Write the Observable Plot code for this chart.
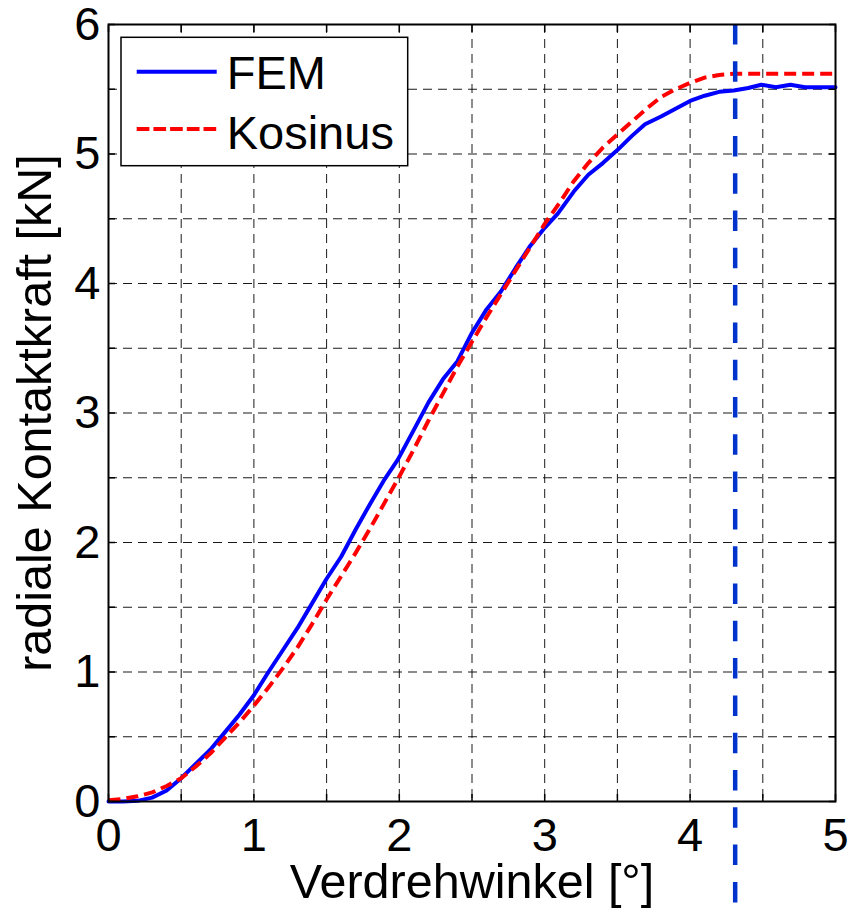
<!DOCTYPE html>
<html><head><meta charset="utf-8">
<script src="https://cdn.jsdelivr.net/npm/d3@7"></script>
<script src="https://cdn.jsdelivr.net/npm/@observablehq/plot@0.6"></script>
<style>
html,body{margin:0;padding:0;background:#fff;}
#wrap{position:relative;width:848px;height:912px;font-family:"Liberation Sans",Arial,Helvetica,sans-serif;}
#wrap svg{display:block;}
#legend{position:absolute;left:120px;top:36px;}
</style></head><body><div id="wrap"></div>
<script>
// FEM series
const femAngle = [0, 0.1, 0.2, 0.3, 0.4, 0.5, 0.6, 0.7, 0.79, 0.9, 1.0, 1.1, 1.2, 1.3, 1.4, 1.5, 1.6, 1.7, 1.8, 1.9, 1.99, 2.1, 2.2, 2.3, 2.4, 2.5, 2.6, 2.7, 2.8, 2.9, 3.0, 3.09, 3.2, 3.3, 3.4, 3.5, 3.6, 3.69, 3.8, 3.9, 4.0, 4.1, 4.2, 4.3, 4.4, 4.49, 4.59, 4.69, 4.79, 4.9, 5.0];
const femForce = [0, 0, 0.005, 0.03, 0.085, 0.18, 0.29, 0.40, 0.52, 0.67, 0.82, 1.0, 1.17, 1.34, 1.53, 1.72, 1.89, 2.10, 2.30, 2.49, 2.64, 2.87, 3.08, 3.26, 3.40, 3.62, 3.80, 3.94, 4.12, 4.29, 4.43, 4.54, 4.71, 4.84, 4.93, 5.03, 5.14, 5.23, 5.29, 5.35, 5.41, 5.45, 5.48, 5.49, 5.51, 5.535, 5.515, 5.535, 5.515, 5.515, 5.515];
// Kosinus series
const kosAngle = [0, 0.1, 0.2, 0.3, 0.4, 0.5, 0.6, 0.7, 0.8, 0.9, 1.0, 1.1, 1.2, 1.3, 1.4, 1.5, 1.6, 1.7, 1.8, 1.9, 2.0, 2.1, 2.2, 2.3, 2.4, 2.5, 2.6, 2.7, 2.8, 2.9, 3.0, 3.1, 3.2, 3.3, 3.4, 3.5, 3.6, 3.7, 3.8, 3.9, 4.0, 4.1, 4.2, 4.3, 5.0];
const kosForce = [0.01, 0.02, 0.04, 0.07, 0.12, 0.18, 0.27, 0.37, 0.49, 0.61, 0.74, 0.88, 1.03, 1.19, 1.37, 1.56, 1.74, 1.92, 2.11, 2.31, 2.51, 2.72, 2.94, 3.15, 3.36, 3.55, 3.74, 3.92, 4.10, 4.28, 4.46, 4.62, 4.79, 4.93, 5.05, 5.15, 5.25, 5.35, 5.44, 5.50, 5.55, 5.59, 5.61, 5.62, 5.62];
// vertical marker
const markerAngle = [4.31];
const markerSpan = [6, -0.788];
// ticks
const xTickLabels = [0, 1, 2, 3, 4, 5];
const yTickLabels = [0, 1, 2, 3, 4, 5, 6];
const xMinorTicks = [0, 0.5, 1, 1.5, 2, 2.5, 3, 3.5, 4, 4.5, 5];
const yMinorTicks = [0, 0.5, 1, 1.5, 2, 2.5, 3, 3.5, 4, 4.5, 5, 5.5, 6];
const xGrid = [0.5, 1, 1.5, 2, 2.5, 3, 3.5, 4, 4.5];
const yGrid = [0.5, 1, 1.5, 2, 2.5, 3, 3.5, 4, 4.5, 5, 5.5];
const xLabel = "Verdrehwinkel [°]";
const yLabel = "radiale Kontaktkraft [kN]";
const seriesNames = ["FEM", "Kosinus"];
const seriesColors = ["#0000ff", "#ff0000"];
const seriesDash = [null, "12.7,4"];

const fem = femAngle.map((a, i) => ({a, f: femForce[i]}));
const kos = kosAngle.map((a, i) => ({a, f: kosForce[i]}));

const FS = 47;
const LFS = 48.5;
const gridStyle = {stroke: "#000", strokeOpacity: 0.9, strokeWidth: 1, strokeDasharray: "9,6"};
const fmt = d => String(d);

const plot = Plot.plot({
  width: 848, height: 912,
  marginLeft: 108, marginRight: 13, marginTop: 24, marginBottom: 111,
  style: {fontFamily: '"Liberation Sans", Arial, Helvetica, sans-serif', fontSize: FS + "px", background: "transparent", color: "#000", overflow: "visible"},
  x: {domain: [0, 5]},
  y: {domain: [0, 6]},
  marks: [
    Plot.gridX(xGrid, gridStyle),
    Plot.gridY(yGrid, gridStyle),
    Plot.line(fem, {x: "a", y: "f", stroke: seriesColors[0], strokeWidth: 4}),
    Plot.line(kos, {x: "a", y: "f", stroke: seriesColors[1], strokeWidth: 4, strokeDasharray: "12,6", strokeLinecap: "butt"}),
    Plot.ruleX(markerAngle, {y1: markerSpan[0], y2: markerSpan[1], stroke: "#0033cc", strokeWidth: 4.5, strokeDasharray: "20.5,16.8", strokeLinecap: "butt"}),
    Plot.frame({stroke: "#000", strokeWidth: 2}),
    Plot.axisX(xMinorTicks, {anchor: "bottom", tickSize: -7, tickFormat: () => "", label: null, strokeWidth: 1.5}),
    Plot.axisX(xMinorTicks, {anchor: "top", tickSize: -7, tickFormat: () => "", label: null, strokeWidth: 1.5}),
    Plot.axisY(yMinorTicks, {anchor: "left", tickSize: -7, tickFormat: () => "", label: null, strokeWidth: 1.5}),
    Plot.axisY(yMinorTicks, {anchor: "right", tickSize: -7, tickFormat: () => "", label: null, strokeWidth: 1.5}),
    Plot.axisX(xTickLabels, {anchor: "bottom", tickSize: 0, tickPadding: 16, label: null, fontSize: FS, tickFormat: fmt}),
    Plot.axisY(yTickLabels, {anchor: "left", tickSize: 0, tickPadding: 8, label: null, fontSize: FS, tickFormat: fmt}),
    Plot.text([xLabel], {text: d => d, frameAnchor: "bottom", textAnchor: "middle", dy: 96, lineAnchor: "bottom", fontSize: LFS}),
    Plot.text([yLabel], {text: d => d, frameAnchor: "left", textAnchor: "middle", rotate: -90, dx: -58, lineAnchor: "bottom", fontSize: LFS})
  ]
});
const wrap = document.getElementById("wrap");
wrap.appendChild(plot);

// legend
const lg = d3.select(wrap).append("svg").attr("id", "legend").attr("width", 292).attr("height", 133);
lg.append("rect").attr("x", 1).attr("y", 1.3).attr("width", 286.7).attr("height", 128.4)
  .attr("fill", "#fff").attr("stroke", "#000").attr("stroke-width", 1.5);
seriesNames.forEach((name, i) => {
  const ly = 35.7 + i * 57.3;
  lg.append("line").attr("x1", 16.7).attr("x2", 96.7).attr("y1", ly).attr("y2", ly)
    .attr("stroke", seriesColors[i]).attr("stroke-width", 4)
    .attr("stroke-dasharray", seriesDash[i]);
  lg.append("text").attr("x", 106.7).attr("y", ly + 17.6 + (i ? 2.7 : 0))
    .attr("font-size", FS).attr("font-family", '"Liberation Sans", Arial, Helvetica, sans-serif')
    .attr("fill", "#000").text(name);
});
</script>
</body></html>
